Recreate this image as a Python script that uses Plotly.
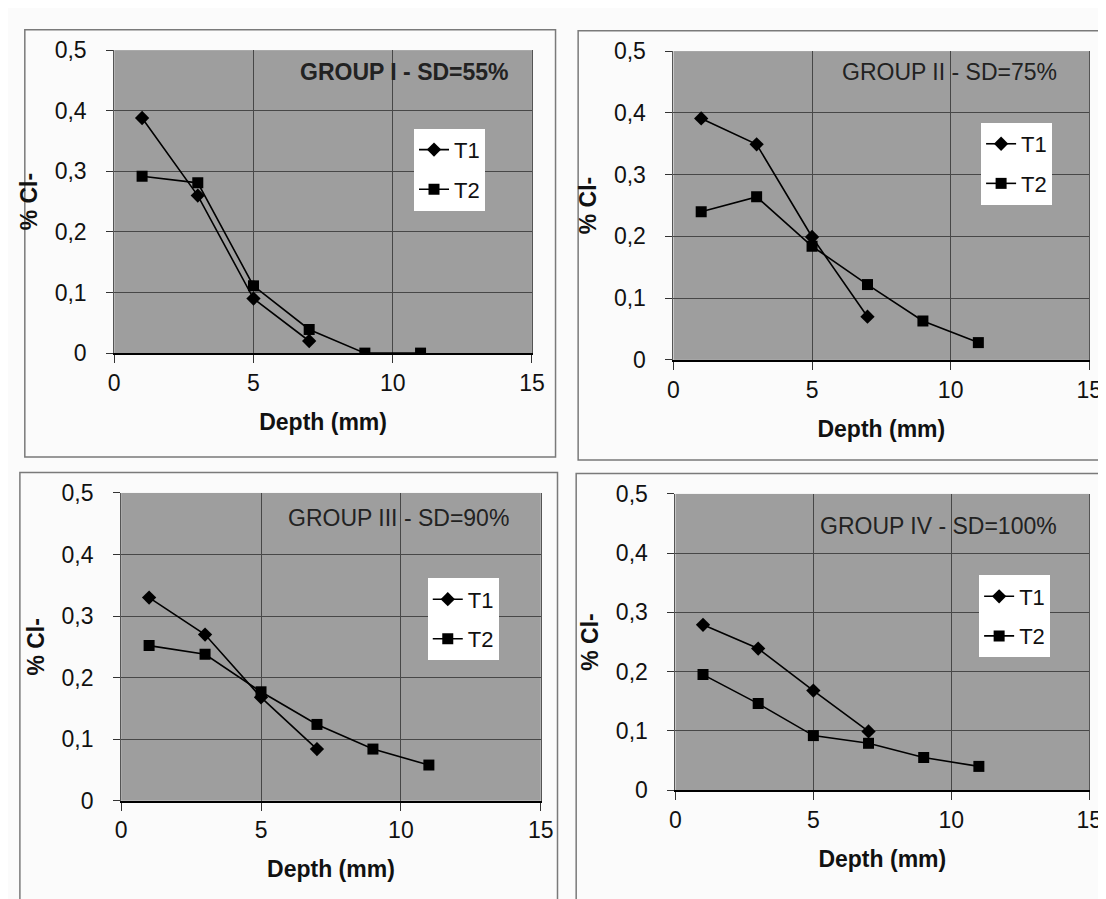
import plotly.graph_objects as go

# ---------------- data ----------------
depth_t1 = [1, 3, 5, 7]
depth_t2 = [1, 3, 5, 7, 9, 11]

g1_t1 = [0.388, 0.260, 0.090, 0.020]
g1_t2 = [0.292, 0.281, 0.111, 0.039, 0.0, 0.0]
g2_t1 = [0.391, 0.349, 0.199, 0.070]
g2_t2 = [0.240, 0.264, 0.184, 0.122, 0.063, 0.028]
g3_t1 = [0.330, 0.270, 0.168, 0.084]
g3_t2 = [0.252, 0.238, 0.177, 0.124, 0.084, 0.058]
g4_t1 = [0.279, 0.239, 0.168, 0.099]
g4_t2 = [0.195, 0.146, 0.092, 0.079, 0.055, 0.040]

group_titles = ["GROUP I - SD=55%", "GROUP II - SD=75%",
                "GROUP III - SD=90%", "GROUP IV - SD=100%"]
series_names = ["T1", "T2"]
x_tickvals = [0, 5, 10, 15]
x_ticktext = ["0", "5", "10", "15"]
y_tickvals = [0, 0.1, 0.2, 0.3, 0.4, 0.5]
y_ticktext = ["0", "0,1", "0,2", "0,3", "0,4", "0,5"]
x_title = "Depth (mm)"
y_title = "% Cl-"

# ---------------- layout geometry (px) ----------------
W, H = 1106, 899
plots = [  # x0, y0, x1, y1 of plot areas
    (102, 30, 527, 342),
    (671, 31, 1094, 349),
    (109, 486, 536, 803),
    (673, 487, 1094, 792),
]
panels = [
    (11, 9, 551, 449),
    (574, 10, 1112, 452),
    (6, 465, 553, 905),
    (572, 466, 1112, 905),
]
legend_pos = [(407, 111), (984, 105), (421, 574), (982, 571)]
title_pos = [(397, 53), (952, 53), (391, 512), (941, 520)]

FONT = "Liberation Sans, Arial, sans-serif"
PLOT_BG = "#9e9e9e"
GRID = "#474747"

series = [(g1_t1, g1_t2), (g2_t1, g2_t2), (g3_t1, g3_t2), (g4_t1, g4_t2)]

fig = go.Figure()
layout = dict(
    width=W, height=H,
    margin=dict(l=0, r=0, t=0, b=0),
    paper_bgcolor="#fbfbfb",
    plot_bgcolor=PLOT_BG,
    font=dict(family=FONT, color="#111111", size=21),
    showlegend=True,
    shapes=[], annotations=[],
)

for i, ((t1, t2), (px0, py0, px1, py1)) in enumerate(zip(series, plots)):
    n = i + 1
    xa = "x" if n == 1 else f"x{n}"
    ya = "y" if n == 1 else f"y{n}"
    lg = "legend" if n == 1 else f"legend{n}"

    fig.add_trace(go.Scatter(
        x=depth_t1, y=t1, name=series_names[0], mode="lines+markers",
        xaxis=xa, yaxis=ya, legend=lg, legendgroup=f"a{n}",
        line=dict(color="#000000", width=1.6),
        marker=dict(symbol="diamond", size=11, color="#000000")))
    fig.add_trace(go.Scatter(
        x=depth_t2, y=t2, name=series_names[1], mode="lines+markers",
        xaxis=xa, yaxis=ya, legend=lg, legendgroup=f"b{n}",
        line=dict(color="#000000", width=1.6),
        marker=dict(symbol="square", size=11, color="#000000")))

    xkey = "xaxis" if n == 1 else f"xaxis{n}"
    ykey = "yaxis" if n == 1 else f"yaxis{n}"
    layout[xkey] = dict(
        domain=[px0 / W, px1 / W], anchor=ya, range=[0, 15],
        tickvals=x_tickvals, ticktext=x_ticktext,
        showgrid=True, gridcolor=GRID, gridwidth=1,
        showline=True, linecolor="#000000", linewidth=2,
        ticks="outside", ticklen=8, tickcolor="#333333",
        ticklabelstandoff=0, zeroline=False,
        tickfont=dict(size=23, color="#111111"),
        title=dict(text=f"<b>{x_title}</b>", standoff=19,
                   font=dict(size=23, color="#111111")),
        fixedrange=True,
    )
    layout[ykey] = dict(
        domain=[1 - py1 / H, 1 - py0 / H], anchor=xa, range=[0, 0.5],
        tickvals=y_tickvals, ticktext=y_ticktext,
        showgrid=True, gridcolor=GRID, gridwidth=1,
        showline=True, linecolor="#555555", linewidth=1, mirror=True,
        ticks="outside", ticklen=7, tickcolor="#333333",
        ticklabelstandoff=15, zeroline=False,
        tickfont=dict(size=23, color="#111111"),
        title=dict(text=f"<b>{y_title}</b>", standoff=10,
                   font=dict(size=23, color="#111111")),
        fixedrange=True,
    )
    lx, ly = legend_pos[i]
    layout[lg] = dict(
        x=lx / W, y=1 - ly / H, xanchor="left", yanchor="top",
        bgcolor="#ffffff", borderwidth=0,
        font=dict(size=22, color="#111111"),
        tracegroupgap=8, itemwidth=30,
    )
    # panel (chart area) frame
    qx0, qy0, qx1, qy1 = panels[i]
    layout["shapes"].append(dict(
        type="rect", xref="paper", yref="paper", layer="below",
        x0=qx0 / W, x1=qx1 / W, y0=1 - qy1 / H, y1=1 - qy0 / H,
        fillcolor="rgba(0,0,0,0)", line=dict(color="#7a7a7a", width=1.5)))
    # group title inside plot area
    tx, ty = title_pos[i]
    ttxt = f"<b>{group_titles[i]}</b>" if i == 0 else group_titles[i]
    layout["annotations"].append(dict(
        text=ttxt, xref="paper", yref="paper", x=tx / W, y=1 - ty / H,
        xanchor="center", yanchor="middle", showarrow=False,
        font=dict(size=23, color="#222222", family=FONT)))

fig.update_layout(**layout)
fig.write_html("out.html")
